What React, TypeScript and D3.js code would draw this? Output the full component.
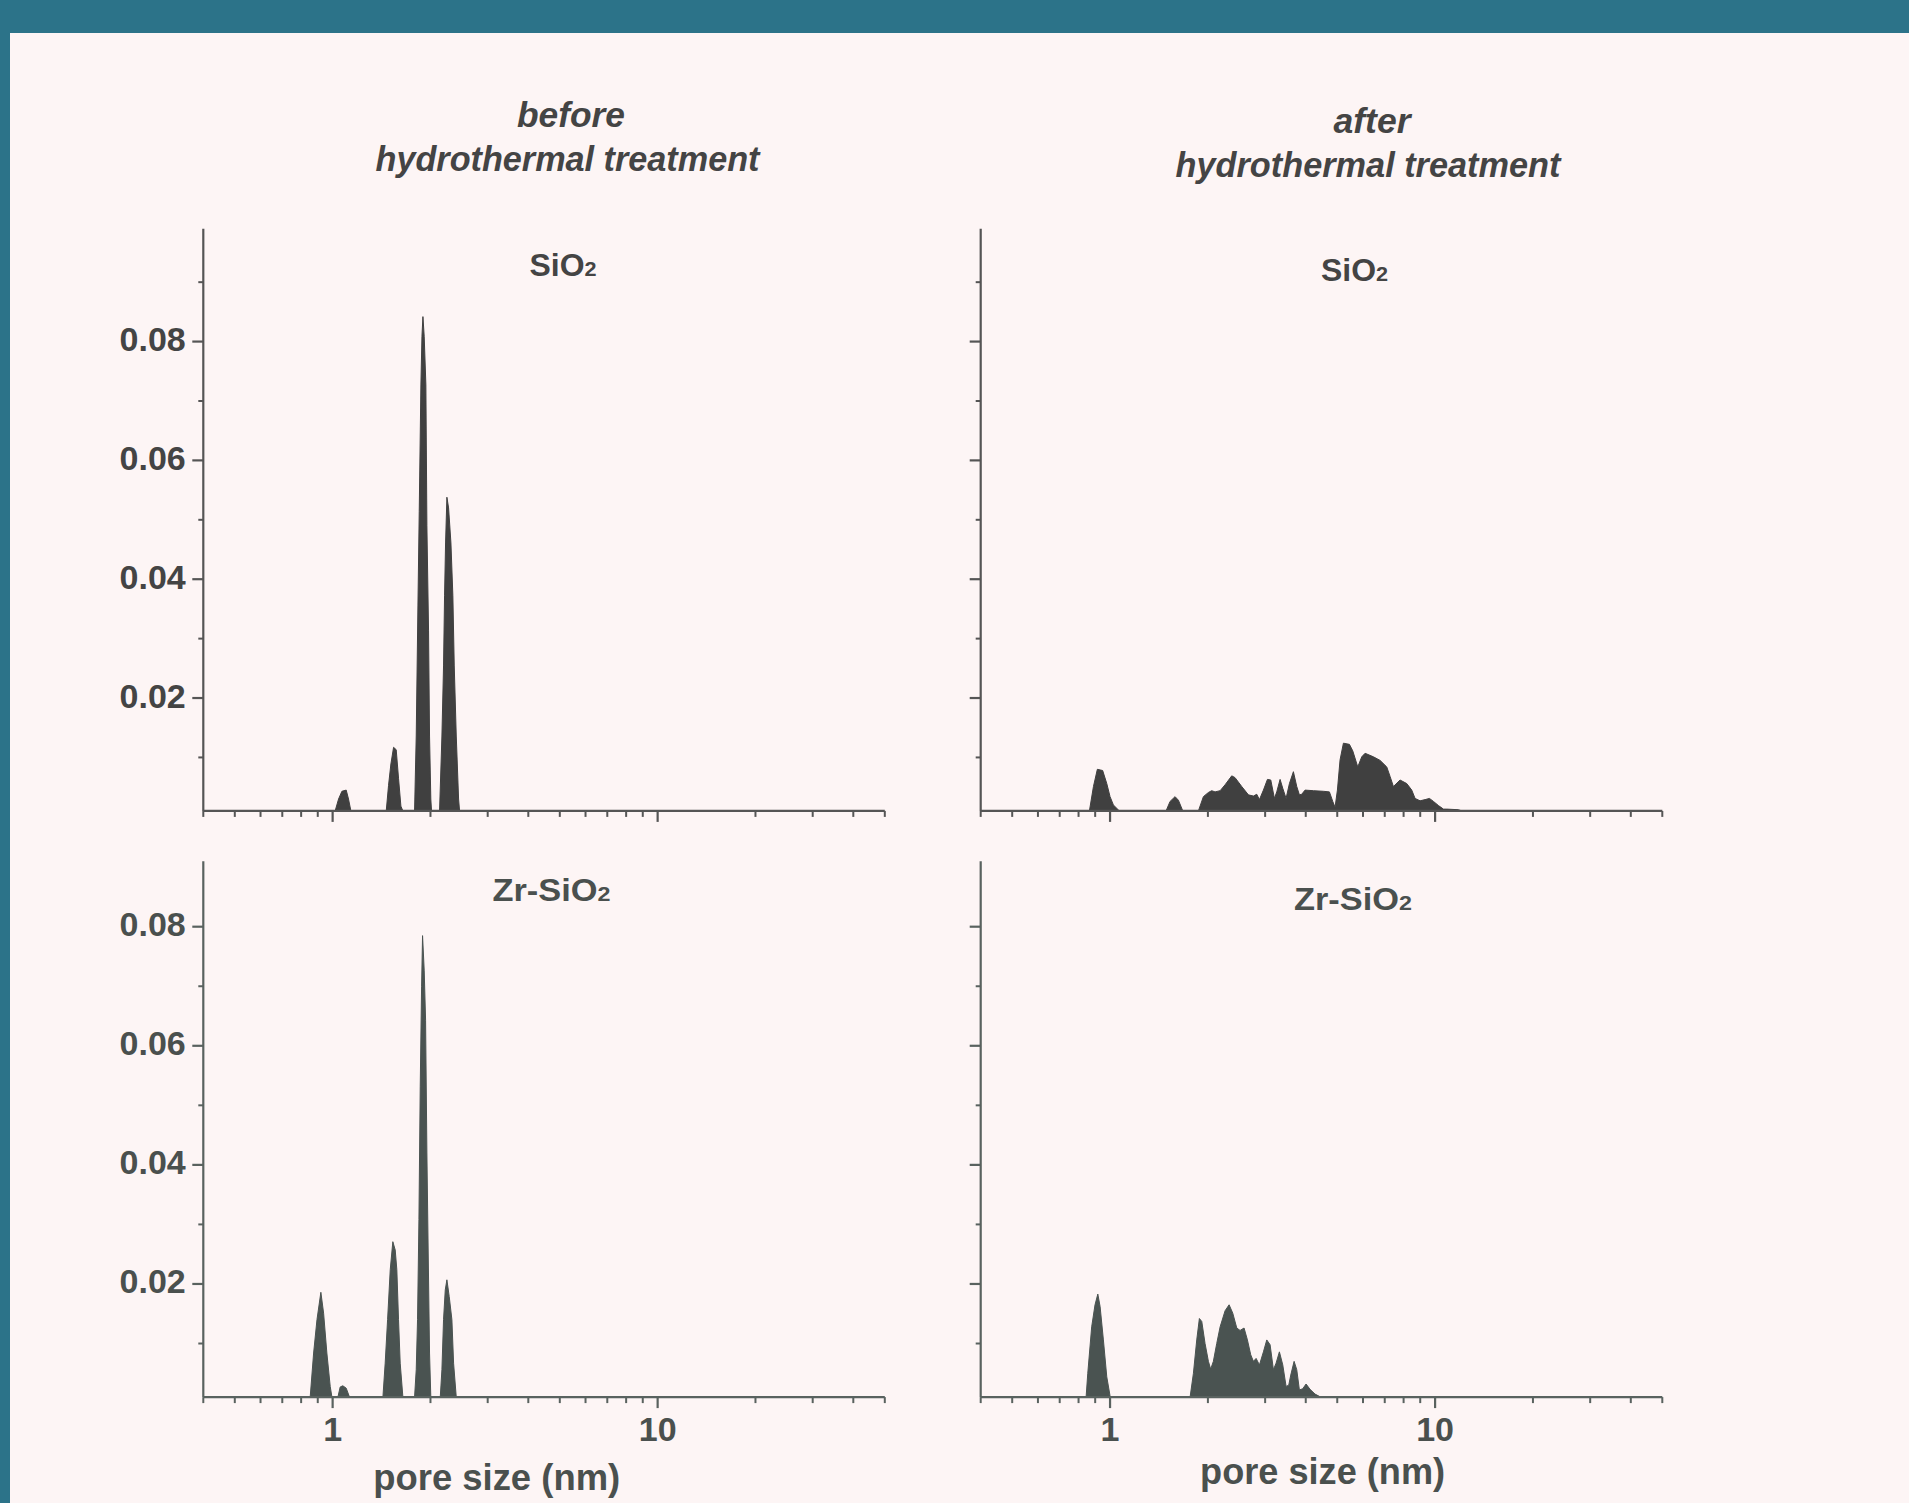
import React from "react";
import * as d3 from "d3";

// ---------- data (pore size nm, dV/dlogD-like value) ----------
const sio2Before: [number, number][] = [
  [1.018, 0.001], [1.043, 0.003], [1.068, 0.0043], [1.101, 0.0045], [1.119, 0.003], [1.138, 0.001],
  [1.462, 0.001], [1.486, 0.0053], [1.511, 0.0089], [1.54, 0.0117], [1.569, 0.0113], [1.595, 0.0065], [1.622, 0.0018], [1.645, 0.001],
  [1.787, 0.001], [1.808, 0.0136], [1.83, 0.0355], [1.847, 0.0514], [1.869, 0.0727], [1.883, 0.0809], [1.896, 0.0842], [1.913, 0.0809], [1.936, 0.0727], [1.95, 0.049], [1.973, 0.0313], [1.987, 0.0136], [2.005, 0.003], [2.015, 0.001],
  [2.133, 0.001], [2.169, 0.0136], [2.194, 0.0254], [2.21, 0.0372], [2.226, 0.0461], [2.247, 0.0538], [2.274, 0.052], [2.312, 0.0461], [2.344, 0.0372], [2.367, 0.0254], [2.401, 0.0136], [2.441, 0.003], [2.458, 0.001],
];

const zrSio2Before: [number, number][] = [
  [0.853, 0.001], [0.874, 0.0084], [0.895, 0.014], [0.92, 0.0186], [0.938, 0.0151], [0.96, 0.0084], [0.983, 0.0028], [0.995, 0.001],
  [1.038, 0.001], [1.055, 0.0027], [1.075, 0.0029], [1.101, 0.0025], [1.127, 0.001],
  [1.428, 0.001], [1.451, 0.0067], [1.476, 0.014], [1.504, 0.0224], [1.532, 0.0271], [1.558, 0.0257], [1.576, 0.0224], [1.595, 0.014], [1.614, 0.0067], [1.645, 0.001],
  [1.787, 0.001], [1.808, 0.0056], [1.825, 0.014], [1.843, 0.0308], [1.86, 0.0531], [1.878, 0.0699], [1.891, 0.0785], [1.913, 0.0727], [1.932, 0.0643], [1.95, 0.042], [1.968, 0.0252], [1.987, 0.0084], [2.005, 0.001],
  [2.144, 0.001], [2.169, 0.0056], [2.194, 0.014], [2.221, 0.019], [2.247, 0.0207], [2.284, 0.0179], [2.328, 0.014], [2.356, 0.0067], [2.401, 0.001],
];

const sio2After: [number, number][] = [
  [0.864, 0.001], [0.889, 0.0051], [0.914, 0.008], [0.949, 0.0078], [0.977, 0.0056], [1.0, 0.0034], [1.024, 0.002], [1.068, 0.001],
  [1.487, 0.001], [1.53, 0.0026], [1.585, 0.0034], [1.623, 0.0028], [1.674, 0.001],
  [1.87, 0.001], [1.937, 0.0034], [2.007, 0.0041], [2.055, 0.0044], [2.104, 0.0042], [2.181, 0.0044], [2.259, 0.0054], [2.368, 0.0069], [2.424, 0.0066], [2.542, 0.0051], [2.665, 0.0037], [2.761, 0.0035], [2.827, 0.0038], [2.881, 0.0029], [2.964, 0.0045], [3.049, 0.0063], [3.122, 0.0062], [3.204, 0.0031], [3.257, 0.0042], [3.335, 0.0063], [3.399, 0.0048], [3.48, 0.0031], [3.563, 0.0056], [3.665, 0.0076], [3.753, 0.0051], [3.824, 0.0037], [3.887, 0.0038], [3.981, 0.0045], [4.224, 0.0044], [4.532, 0.0043], [4.73, 0.0042], [4.843, 0.0026], [4.923, 0.0016], [5.006, 0.0045], [5.101, 0.0096], [5.223, 0.0124], [5.45, 0.0122], [5.581, 0.0111], [5.782, 0.0084], [5.948, 0.0101], [6.09, 0.0107], [6.461, 0.0101], [6.773, 0.0095], [7.1, 0.0084], [7.269, 0.0068], [7.443, 0.0051], [7.802, 0.0062], [8.18, 0.0056], [8.475, 0.0045], [8.678, 0.0031], [8.99, 0.0027], [9.316, 0.0029], [9.607, 0.0031], [9.883, 0.0026], [10.24, 0.0019], [10.61, 0.0013], [10.86, 0.0013], [11.8, 0.0012], [12.08, 0.001],
];

const zrSio2After: [number, number][] = [
  [0.844, 0.001], [0.854, 0.005], [0.878, 0.0128], [0.899, 0.0165], [0.917, 0.0183], [0.932, 0.0162], [0.954, 0.0106], [0.977, 0.0044], [1.0, 0.0012], [1.007, 0.001],
  [1.763, 0.001], [1.805, 0.005], [1.848, 0.0106], [1.883, 0.0142], [1.915, 0.0137], [1.96, 0.01], [2.007, 0.007], [2.04, 0.0057], [2.079, 0.007], [2.129, 0.01], [2.181, 0.0128], [2.259, 0.0155], [2.324, 0.0165], [2.385, 0.0151], [2.454, 0.0126], [2.512, 0.0122], [2.584, 0.0126], [2.646, 0.0106], [2.709, 0.0081], [2.761, 0.007], [2.814, 0.0075], [2.881, 0.0064], [2.964, 0.0086], [3.035, 0.0106], [3.107, 0.0098], [3.181, 0.0056], [3.242, 0.0067], [3.319, 0.0086], [3.399, 0.0064], [3.48, 0.0028], [3.546, 0.003], [3.597, 0.0047], [3.683, 0.007], [3.753, 0.0056], [3.824, 0.0022], [3.915, 0.0024], [4.009, 0.0032], [4.124, 0.0023], [4.273, 0.0015], [4.448, 0.001],
];

const xMajorTicks = [1, 10];
const xMinorTicks = [0.4, 0.5, 0.6, 0.7, 0.8, 0.9, 2, 3, 4, 5, 6, 7, 8, 9, 20, 30, 40, 50];
const yMajorTicks = [0.02, 0.04, 0.06, 0.08];
const yMinorTicksTop = [0.01, 0.03, 0.05, 0.07, 0.09];
const yMinorTicksBottom = [0.01, 0.03, 0.05, 0.07];
const xDomain: [number, number] = [0.4, 50];
const yDomainTop: [number, number] = [0.001, 0.099];
const yDomainBottom: [number, number] = [0.001, 0.091];

// ---------- layout ----------
const W = 1909;
const H = 1503;
const FONT = "'Liberation Sans', Arial, Helvetica, sans-serif";
const colRange: [number, number][] = [[203.3, 884.8], [980.7, 1662.3]];
const rowRange: [number, number][] = [[810.9, 228.7], [1397.1, 861.2]];
const rowFill = ["#404040", "#4a5351"];
const rowAxis = ["#555555", "#59625f"];
const rowText = ["#444444", "#4a504e"];

type PanelDef = {
  data: [number, number][];
  col: number;
  row: number;
  label: string;
  labelX: number;
  labelY: number;
  labelLen: number;
};

const panels: PanelDef[] = [
  { data: sio2Before, col: 0, row: 0, label: "SiO", labelX: 563, labelY: 276, labelLen: 67 },
  { data: sio2After, col: 1, row: 0, label: "SiO", labelX: 1354.5, labelY: 281, labelLen: 67 },
  { data: zrSio2Before, col: 0, row: 1, label: "Zr-SiO", labelX: 551.5, labelY: 901, labelLen: 118 },
  { data: zrSio2After, col: 1, row: 1, label: "Zr-SiO", labelX: 1353, labelY: 910, labelLen: 118 },
];

function Panel({ p }: { p: PanelDef }) {
  const x = d3.scaleLog().domain(xDomain).range(colRange[p.col]);
  const yDom = p.row === 0 ? yDomainTop : yDomainBottom;
  const y = d3.scaleLinear().domain(yDom).range(rowRange[p.row]);
  const base = yDom[0];
  const area = d3
    .area<[number, number]>()
    .x((d) => x(d[0]))
    .y0(y(base))
    .y1((d) => y(Math.max(base, d[1])));
  const fill = rowFill[p.row];
  const axisC = rowAxis[p.row];
  const textC = rowText[p.row];
  const [x0, x1] = x.range();
  const [yb, yt] = y.range();
  const minorY = p.row === 0 ? yMinorTicksTop : yMinorTicksBottom;
  return (
    <g>
      <path d={area(p.data) || ""} fill={fill} stroke={fill} strokeWidth={1} strokeLinejoin="round" />
      {/* x axis */}
      <line x1={x0} x2={x1} y1={yb} y2={yb} stroke={axisC} strokeWidth={2.2} />
      {xMinorTicks.map((t) => (
        <line key={"xm" + t} x1={x(t)} x2={x(t)} y1={yb} y2={yb + 6} stroke={axisC} strokeWidth={2} />
      ))}
      {xMajorTicks.map((t) => (
        <line key={"xM" + t} x1={x(t)} x2={x(t)} y1={yb} y2={yb + 11} stroke={axisC} strokeWidth={2.2} />
      ))}
      {/* y axis */}
      <line x1={x0} x2={x0} y1={yb} y2={yt} stroke={axisC} strokeWidth={2.2} />
      {minorY.map((t) => (
        <line key={"ym" + t} x1={x0 - 5} x2={x0} y1={y(t)} y2={y(t)} stroke={axisC} strokeWidth={2} />
      ))}
      {yMajorTicks.map((t) => (
        <line key={"yM" + t} x1={x0 - 11} x2={x0} y1={y(t)} y2={y(t)} stroke={axisC} strokeWidth={2.2} />
      ))}
      {p.col === 0 &&
        yMajorTicks.map((t) => (
          <text
            key={"yl" + t}
            x={x0 - 17.5}
            y={y(t) + 9.5}
            textAnchor="end"
            fontFamily={FONT}
            fontWeight="bold"
            fontSize={34}
            fill={textC}
          >
            {t.toFixed(2)}
          </text>
        ))}
      {p.row === 1 &&
        xMajorTicks.map((t) => (
          <text
            key={"xl" + t}
            x={x(t)}
            y={1441}
            textAnchor="middle"
            fontFamily={FONT}
            fontWeight="bold"
            fontSize={34}
            fill={textC}
          >
            {String(t)}
          </text>
        ))}
      <text
        x={p.labelX}
        y={p.labelY}
        textAnchor="middle"
        textLength={p.labelLen}
        lengthAdjust="spacingAndGlyphs"
        fontFamily={FONT}
        fontWeight="bold"
        fontSize={31}
        fill={textC}
      >
        <tspan>{p.label}</tspan>
        <tspan fontSize={21}>2</tspan>
      </text>
    </g>
  );
}

export default function App() {
  const titleStyle = {
    fontFamily: FONT,
    fontWeight: "bold" as const,
    fontStyle: "italic" as const,
    fontSize: 35,
    fill: "#444444",
  };
  return (
    <svg
      width={W}
      height={H}
      viewBox={`0 0 ${W} ${H}`}
      style={{ position: "absolute", left: 0, top: 0, display: "block" }}
    >
      <rect x={0} y={0} width={W} height={H} fill="#fdf5f5" />
      <rect x={0} y={0} width={W} height={33} fill="#2c7389" />
      <rect x={0} y={0} width={10} height={H} fill="#2c7389" />

      <text x={571} y={127} textAnchor="middle" textLength={108} lengthAdjust="spacingAndGlyphs" style={titleStyle}>
        before
      </text>
      <text x={567.5} y={171} textAnchor="middle" textLength={384} lengthAdjust="spacingAndGlyphs" style={titleStyle}>
        hydrothermal treatment
      </text>
      <text x={1372} y={133} textAnchor="middle" textLength={77} lengthAdjust="spacingAndGlyphs" style={titleStyle}>
        after
      </text>
      <text x={1368} y={177} textAnchor="middle" textLength={385} lengthAdjust="spacingAndGlyphs" style={titleStyle}>
        hydrothermal treatment
      </text>

      {panels.map((p, i) => (
        <Panel key={i} p={p} />
      ))}

      <text
        x={496.7}
        y={1490}
        textAnchor="middle"
        textLength={247}
        lengthAdjust="spacingAndGlyphs"
        fontFamily={FONT}
        fontWeight="bold"
        fontSize={37}
        fill={rowText[1]}
      >
        pore size (nm)
      </text>
      <text
        x={1322.6}
        y={1484}
        textAnchor="middle"
        textLength={245}
        lengthAdjust="spacingAndGlyphs"
        fontFamily={FONT}
        fontWeight="bold"
        fontSize={37}
        fill={rowText[1]}
      >
        pore size (nm)
      </text>
    </svg>
  );
}
